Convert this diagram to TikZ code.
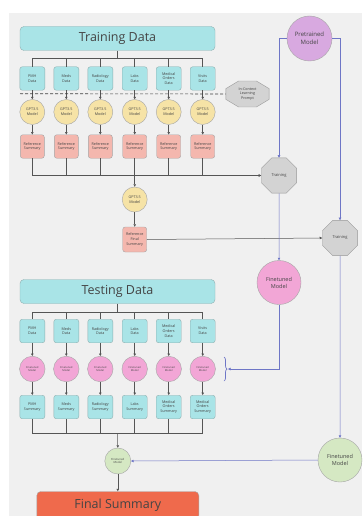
\documentclass[tikz,border=0pt]{standalone}
\usepackage{fontspec}
\setmainfont{Open Sans}
\usetikzlibrary{shapes.geometric,arrows.meta,decorations.pathreplacing}
\definecolor{bgc}{HTML}{F0F0F0}
\definecolor{tealf}{HTML}{A9E4E7}
\definecolor{tealb}{HTML}{8FAFB0}
\definecolor{yelf}{HTML}{F6E3A6}
\definecolor{salf}{HTML}{F4B7AE}
\definecolor{pinkf}{HTML}{F2A6D6}
\definecolor{purf}{HTML}{D8A9E0}
\definecolor{grnf}{HTML}{D5E8C3}
\definecolor{oraf}{HTML}{EF6A4C}
\definecolor{octf}{HTML}{D3D3D3}
\definecolor{bluel}{HTML}{6E76C6}
\definecolor{linec}{HTML}{555555}
\definecolor{txt}{HTML}{444444}
\tikzset{
  x=1pt,y=-1pt,
  every node/.style={text=txt,align=center,inner sep=0pt},
  bigbox/.style={draw=tealb,fill=tealf,rounded corners=4pt,minimum width=195pt,minimum height=24pt,font=\fontsize{12.5}{15}\selectfont},
  databox/.style={draw=tealb,fill=tealf,rounded corners=2.5pt,minimum width=25pt,minimum height=23.5pt,font=\fontsize{3.7}{4.7}\selectfont},
  refbox/.style={draw=gray!70,fill=salf,rounded corners=2.5pt,minimum width=24pt,minimum height=23.5pt,font=\fontsize{3.7}{4.7}\selectfont},
  gptc/.style={circle,draw=gray!70,fill=yelf,minimum size=25pt,font=\fontsize{3.7}{4.7}\selectfont},
  ftc/.style={circle,draw=gray!70,fill=pinkf,minimum size=25.5pt,font=\fontsize{2.6}{3.4}\selectfont},
  octo/.style={regular polygon,regular polygon sides=8,draw=gray!80,fill=octf},
  conn/.style={draw=linec,line width=0.5pt},
  arr/.style={conn,-{Triangle[length=2.5pt,width=2.5pt]}},
  barr/.style={draw=bluel,line width=0.5pt,-{Triangle[length=2.5pt,width=2.5pt]}},
  bline/.style={draw=bluel,line width=0.5pt}
}
\begin{document}
\begin{tikzpicture}
\useasboundingbox (0,0) rectangle (362,516);
\fill[bgc] (9,13) rectangle (362,516);

% Training section
\node[bigbox] (train) at (117.5,38.5) {Training Data};
\foreach \i/\x/\t in {1/32.3/PMH\\Data,2/66.3/Meds\\Data,3/100.3/Radiology\\Data,4/134.7/Labs\\Data,5/168.7/Medical\\Orders\\Data,6/202.7/Visits\\Data}{
  \node[databox] (d\i) at (\x,78.5) {\t};
  \node[gptc] (g\i) at (\x,112) {GPT3.5\\Model};
  \node[refbox] (r\i) at (\x,146.5) {Reference\\Summary};
}
\coordinate (tj) at (117.5,58);
\draw[conn] (train.south) -- (tj);
\foreach \i in {1,...,6}{
  \draw[conn] (tj) -| (d\i.north);
  \draw[arr] (d\i) -- (g\i);
  \draw[arr] (g\i) -- (r\i);
}
% in-context prompt
\node[octo,minimum size=36pt,xscale=1.3,yscale=0.78] (icl) at (247.5,94) {};
\node[font=\fontsize{3.7}{4.7}\selectfont] at (icl) {In-Context\\Learning\\Prompt};
\draw[densely dashed,line width=0.6pt,draw=black!75] (20,93.7) -- (icl.west);

% Training octagons
\node[octo,minimum size=38pt,font=\fontsize{4}{5}\selectfont] (t1) at (279,175.5) {Training};
\node[octo,minimum size=38pt,font=\fontsize{4}{5}\selectfont] (t2) at (340,238) {Training};

% merge reference summaries
\coordinate (rj) at (134.7,175);
\foreach \i in {1,...,6}{
  \draw[conn] (r\i.south) |- (t1.west);
}
\draw[arr] (r6.south) |- (t1.west);
\node[gptc] (gf) at (134.7,199.5) {GPT3.5\\Model};
\draw[arr] (rj) -- (gf);
\node[refbox,minimum height=25pt] (rf) at (134.7,239.5) {Reference\\Final\\Summary};
\draw[arr] (gf) -- (rf);
\draw[arr] (rf.east) -- (t2.west);

% Pretrained model
\node[circle,draw=gray!70,fill=purf,minimum size=45pt,font=\fontsize{6}{7.5}\selectfont] (pm) at (309.5,38.5) {Pretrained\\Model};
\draw[barr] (pm.west) -| (t1.north);
\draw[barr] (pm.east) -| (t2.north);

% Finetuned (pink)
\node[circle,draw=gray!70,fill=pinkf,minimum size=44pt,font=\fontsize{5.5}{7}\selectfont] (fp) at (279,282.5) {Finetuned\\Model};
\draw[barr] (t1.south) -- (fp.north);

% Finetuned (green)
\node[circle,draw=gray!70,fill=grnf,minimum size=44pt,font=\fontsize{5.5}{7}\selectfont] (fg) at (340,460) {Finetuned\\Model};
\draw[barr] (t2.south) -- (fg.north);

% Testing section
\node[bigbox] (test) at (117.5,291.5) {Testing Data};
\foreach \i/\x/\t/\s in {1/32.3/PMH\\Data/PMH\\Summary,2/66.3/Meds\\Data/Meds\\Summary,3/100.3/Radiology\\Data/Radiology\\Summary,4/134.7/Labs\\Data/Labs\\Summary,5/168.7/Medical\\Orders\\Data/Medical\\Orders\\Summary,6/202.7/Visits\\Data/Medical\\Orders\\Summary}{
  \node[databox] (td\i) at (\x,331) {\t};
  \node[ftc] (f\i) at (\x,369) {Finetuned\\Model};
  \node[databox] (s\i) at (\x,407) {\s};
}
\coordinate (sj) at (117.5,312);
\draw[conn] (test.south) -- (sj);
\foreach \i in {1,...,6}{
  \draw[conn] (sj) -| (td\i.north);
  \draw[arr] (td\i) -- (f\i);
  \draw[arr] (f\i) -- (s\i);
}
% brace
\draw[bluel,line width=0.7pt,decorate,decoration={brace,amplitude=3pt}] (224,357) -- (224,381);
\coordinate (bt) at (228,369);
\draw[barr] (fp.south) |- (bt);

% final merge
\node[circle,draw=gray!70,fill=grnf,minimum size=26pt,font=\fontsize{2.8}{3.6}\selectfont] (fs) at (117.8,461) {Finetuned\\Model};
\coordinate (fj) at (117.5,433);
\foreach \i in {1,...,6}{
  \draw[conn] (s\i.south) |- (fj);
}
\draw[arr] (fj) -- (fs.north);
\draw[barr] (fg.west) -- (fs.east);

\node[draw=gray!70,fill=oraf,rounded corners=4pt,minimum width=162pt,minimum height=28pt,font=\fontsize{12.5}{15}\selectfont] (final) at (117.8,505.5) {Final Summary};
\draw[arr] (fs.south) -- (final.north);
\end{tikzpicture}
\end{document}
